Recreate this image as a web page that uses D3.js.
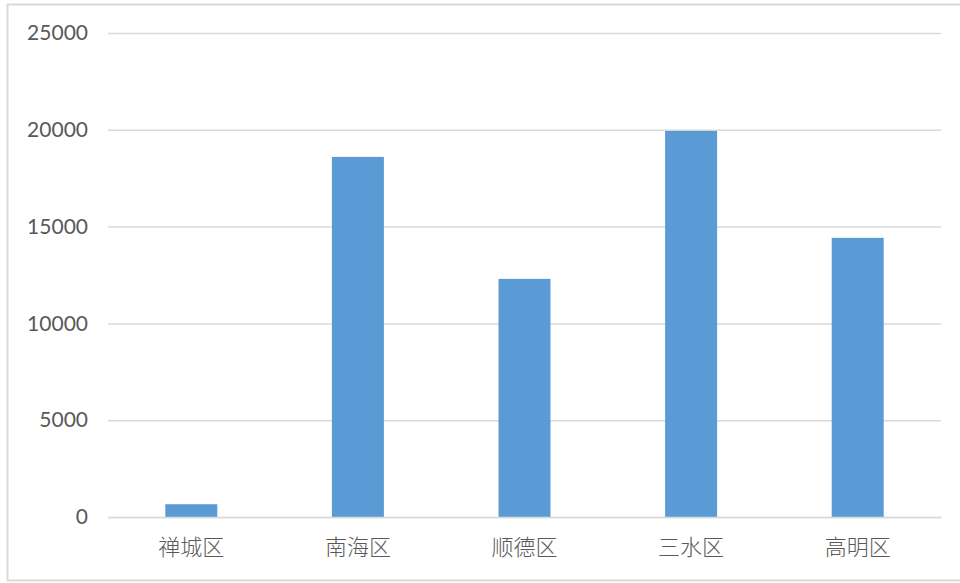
<!DOCTYPE html>
<html>
<head>
<meta charset="utf-8">
<script src="https://cdn.jsdelivr.net/npm/d3@7"></script>
<style>
html,body{margin:0;padding:0;background:#fff;}
svg{display:block;}
</style>
</head>
<body>
<svg id="chart" width="960" height="583"></svg>
<script>
const categories = ["禅城区","南海区","顺德区","三水区","高明区"];
const values = [660, 18600, 12300, 19940, 14420];
const yTicks = [0, 5000, 10000, 15000, 20000, 25000];

const svg = d3.select("#chart");
const plot = {left: 108, right: 941, top: 33, bottom: 517};

// outer border
svg.append("rect")
  .attr("x", 7.5).attr("y", 4.5)
  .attr("width", 970).attr("height", 576)
  .attr("fill", "#fff").attr("stroke", "#d9d9d9").attr("stroke-width", 2);

const x = d3.scaleBand().domain(categories)
  .range([plot.left, plot.right]).paddingInner(0.688).paddingOuter(0.344);
const y = d3.scaleLinear().domain([0, 25000]).range([plot.bottom, plot.top]);

// gridlines
const yAxis = d3.axisLeft(y).tickValues(yTicks).tickSize(-(plot.right - plot.left)).tickPadding(20).tickFormat(d3.format("d"));
const gy = svg.append("g").attr("transform", `translate(${plot.left},0)`).call(yAxis);
gy.select(".domain").remove();
gy.selectAll(".tick line").attr("stroke", "#d9d9d9").attr("stroke-width", 1.5);
gy.selectAll(".tick text")
  .attr("fill", "#595959")
  .style("font-family", "Lato, 'Open Sans', sans-serif")
  .style("font-size", "21px");

// bars
svg.append("g").selectAll("rect").data(categories).join("rect")
  .attr("x", d => x(d))
  .attr("y", (d, i) => y(values[i]))
  .attr("width", x.bandwidth())
  .attr("height", (d, i) => y(0) - y(values[i]))
  .attr("fill", "#5b9bd5");

// x axis
const xAxis = d3.axisBottom(x).tickSize(0).tickPadding(22);
const gx = svg.append("g").attr("transform", `translate(0,${plot.bottom})`).call(xAxis);
gx.select(".domain").attr("stroke", "#d9d9d9").attr("stroke-width", 1.5);
gx.selectAll(".tick text")
  .attr("fill", "#595959")
  .style("font-family", "'Noto Sans CJK SC', sans-serif")
  .style("font-weight", "300")
  .style("font-size", "22px");
</script>
</body>
</html>
